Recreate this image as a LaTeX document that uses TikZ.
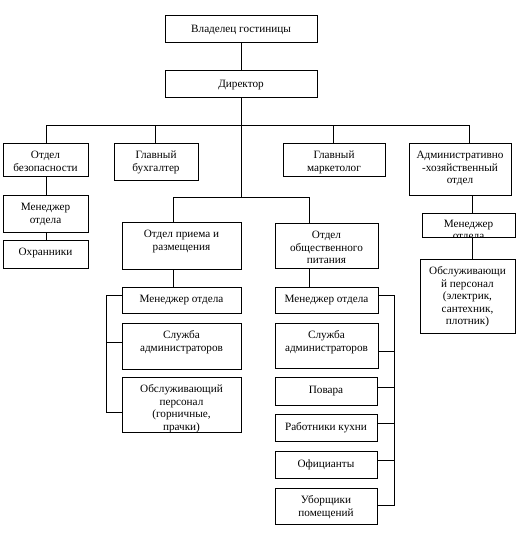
\documentclass[tikz,border=0pt]{standalone}
\usepackage{fontspec}
\setmainfont{Liberation Serif}
\tikzset{
  box/.style={draw, line width=0.8pt, inner sep=0pt, font=\fontsize{11.2}{12.5}\selectfont},
  txt/.style={inner sep=0pt, font=\fontsize{11.2}{12}\selectfont},
  ln/.style={line width=0.8pt}
}
\newcommand\bx[7][7pt]{%
  \pgfmathsetmacro\bw{#5-#3}\pgfmathsetmacro\bh{#6-#4}%
  \node[box] (#2) at ({(#3+#5)/2},{(#4+#6)/2})
    {\parbox[c][\bh pt][t]{\bw pt}{\centering\vspace*{#1}\strut #7\strut}};}
\begin{document}
\begin{tikzpicture}[x=1pt,y=-1pt]
\useasboundingbox (0,0) rectangle (525,541);
\fill[white] (0,0) rectangle (525,541);
% boxes
\bx[8.5pt]{own}{165}{15}{317}{42}{Владелец гостиницы}
\bx[8.5pt]{dir}{165}{70}{317}{97}{Директор}
\bx{sec}{3}{143}{88}{176}{Отдел\\безопасности}
\bx{bux}{114}{143}{198}{180}{Главный\\бухгалтер}
\bx{mk}{283}{143}{385}{176}{Главный\\маркетолог}
\bx{adm}{409}{143}{511}{195}{Административно\\-хозяйственный\\отдел}
\bx{secm}{3}{195}{88}{232}{Менеджер\\отдела}
\bx{guard}{3}{240}{88}{268}{Охранники}
\bx{rec}{122}{222}{241}{269}{Отдел приема и\\размещения}
\bx{recm}{122}{287}{241}{313}{Менеджер отдела}
\bx{recadm}{122}{323}{241}{369}{Служба\\администраторов}
\bx{recstaff}{122}{377}{241}{432}{Обслуживающий\\персонал\\(горничные,\\прачки)}
\bx{cat}{275}{223}{378}{268}{Отдел\\общественного\\питания}
\bx{catm}{275}{287}{378}{313}{Менеджер отдела}
\bx{catadm}{275}{323}{378}{368}{Служба\\администраторов}
\bx[8pt]{cook}{275}{377}{377}{405}{Повара}
\bx[8pt]{kit}{275}{414}{377}{441}{Работники кухни}
\bx[8pt]{wait}{275}{451}{377}{478}{Официанты}
\bx{clean}{275}{488}{377}{524}{Уборщики\\помещений}
\begin{scope}
  \clip (422,213) rectangle (515,237);
  \node[txt] (admmt) at (468.5,225)
    {\parbox[c][24pt][t]{93pt}{\centering\vspace*{6pt}\strut Менеджер\\отдела\strut}};
\end{scope}
\bx{admm}{422}{213}{515}{237}{}
\bx{admstaff}{420}{259}{515}{333}{Обслуживающи\\й персонал\\(электрик,\\сантехник,\\плотник)}
% coordinates
\coordinate (bL) at (46,125);
\coordinate (b2) at (155,125);
\coordinate (b3) at (333,125);
\coordinate (bR) at (469,125);
\coordinate (jL) at (173,197);
\coordinate (jR) at (309,197);
\coordinate (jC) at (241,197);
\coordinate (sx) at (46,200);
\coordinate (lb1) at (106,295);
\coordinate (lb2) at (106,342);
\coordinate (lb3) at (106,412);
\coordinate (rb1) at (394,295);
\coordinate (rb2) at (394,351);
\coordinate (rb3) at (394,387);
\coordinate (rb4) at (394,423);
\coordinate (rb5) at (394,460);
\coordinate (rb6) at (394,505);
\coordinate (ax) at (472,200);
% connectors
\draw[ln] (own.south) -- (dir.north);
\draw[ln] (dir.south) -- (jC);
\draw[ln] (bL) -- (bR);
\draw[ln] (bL) -- (bL |- sec.north);
\draw[ln] (b2) -- (b2 |- bux.north);
\draw[ln] (b3) -- (b3 |- mk.north);
\draw[ln] (bR) -- (bR |- adm.north);
\draw[ln] (jL) -- (jR);
\draw[ln] (jL) -- (jL |- rec.north);
\draw[ln] (jR) -- (jR |- cat.north);
\draw[ln] (sx |- sec.south) -- (sx |- secm.north);
\draw[ln] (sx |- secm.south) -- (sx |- guard.north);
\draw[ln] (jL |- rec.south) -- (jL |- recm.north);
\draw[ln] (jR |- cat.south) -- (jR |- catm.north);
\draw[ln] (recm.west |- lb1) -- (lb1) -- (lb3) -- (recstaff.west |- lb3);
\draw[ln] (lb2) -- (recadm.west |- lb2);
\draw[ln] (catm.east |- rb1) -- (rb1) -- (rb6) -- (clean.east |- rb6);
\draw[ln] (rb2) -- (catadm.east |- rb2);
\draw[ln] (rb3) -- (cook.east |- rb3);
\draw[ln] (rb4) -- (kit.east |- rb4);
\draw[ln] (rb5) -- (wait.east |- rb5);
\draw[ln] (ax |- adm.south) -- (ax |- admm.north);
\draw[ln] (ax |- admm.south) -- (ax |- admstaff.north);
\end{tikzpicture}
\end{document}
